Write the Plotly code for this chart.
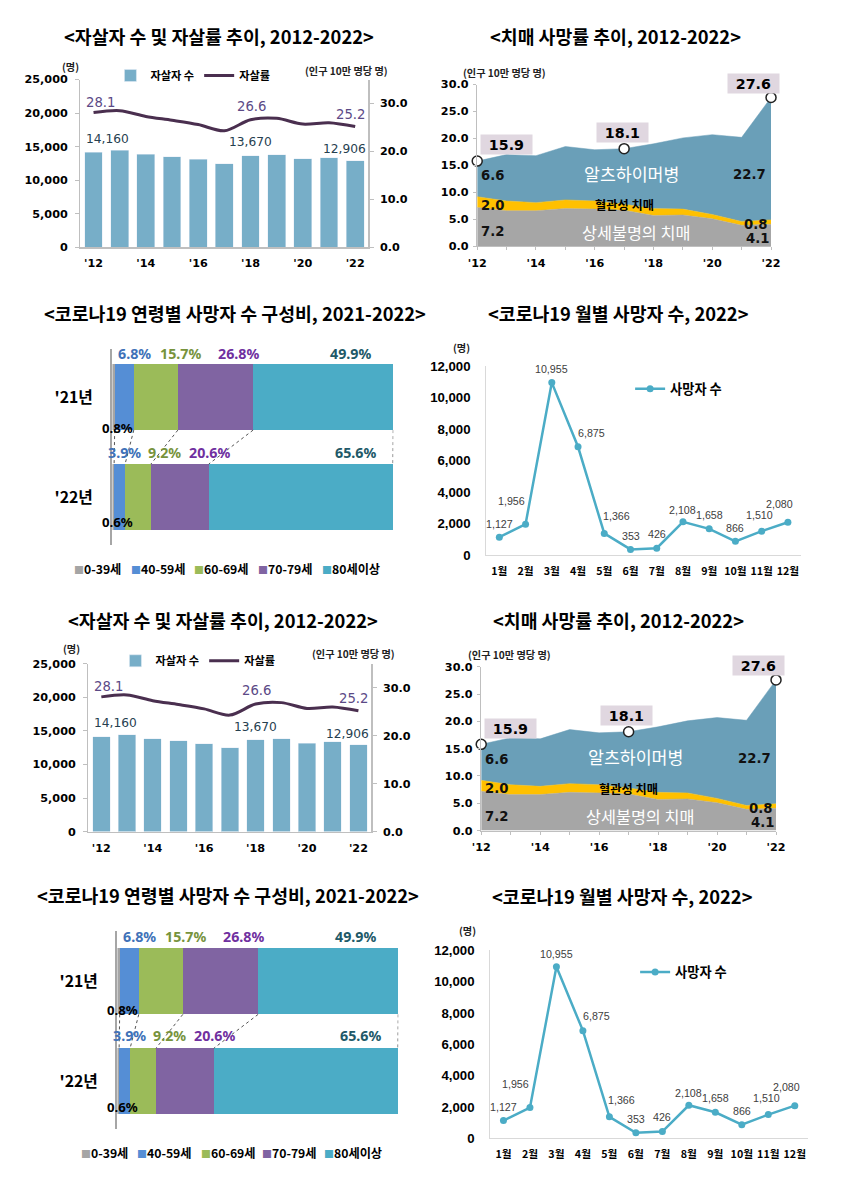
import plotly.graph_objects as go

# ---------------- data ----------------
years = [2012, 2013, 2014, 2015, 2016, 2017, 2018, 2019, 2020, 2021, 2022]
year_ticks = [2012, 2014, 2016, 2018, 2020, 2022]
year_tick_text = ["'12", "'14", "'16", "'18", "'20", "'22"]

suicide_counts = [14160, 14427, 13836, 13513, 13092, 12463, 13670, 13799, 13195, 13352, 12906]
suicide_rates = [28.1, 28.5, 27.3, 26.5, 25.6, 24.3, 26.6, 26.9, 25.7, 26.0, 25.2]
suicide_label_years = [2012, 2018, 2022]

dementia_unspecified = [7.2, 6.6, 6.6, 7.0, 6.9, 6.7, 5.7, 5.8, 5.1, 3.9, 4.1]
dementia_vascular = [2.0, 1.8, 1.5, 1.6, 1.5, 1.1, 1.3, 1.1, 0.8, 0.7, 0.8]
dementia_alzheimer = [6.6, 8.6, 8.7, 9.9, 9.5, 10.3, 12.0, 13.2, 14.8, 15.6, 22.7]
dementia_total_years = [2012, 2017, 2022]
dementia_total_text = ["15.9", "18.1", "27.6"]

age_groups = ["0-39세", "40-59세", "60-69세", "70-79세", "80세이상"]
covid_years = ["'21년", "'22년"]
share_2021 = [0.8, 6.8, 15.7, 26.8, 49.9]
share_2022 = [0.6, 3.9, 9.2, 20.6, 65.6]

months = ["1월", "2월", "3월", "4월", "5월", "6월", "7월", "8월", "9월", "10월", "11월", "12월"]
monthly_deaths = [1127, 1956, 10955, 6875, 1366, 353, 426, 2108, 1658, 866, 1510, 2080]

# ---------------- style ----------------
W, H = 841, 1190
# the photographed page is shrunk slightly; layout positions are given in picture pixels
SX, BX = 0.978, 10.5
SY, BY = 0.9886, 4.4
K = 1 / 0.983  # size compensation for fonts / pixel offsets

KR = "Noto Sans CJK KR"
NUM = "DejaVu Sans"
ARIAL = "Liberation Sans"
NOTO = "Noto Sans"
AXIS_GREY = "#bfbfbf"
C_SUI_BAR = "#77aec8"
C_SUI_LINE = "#4a2f4f"
C_UNSPEC = "#a6a6a6"
C_VASC = "#ffc000"
C_ALZ = "#6a9fb8"
C_AGE = ["#a5a5a5", "#558ed5", "#9bbb59", "#8064a2", "#4bacc6"]
C_AGE_LABEL = ["#000000", "#3f72b8", "#77933c", "#7030a0", "#215968"]
C_MONTH = "#4bacc6"

# label offsets (pixels)
sui_rate_shift = [(7, 10), (1, 13), (-5, 12)]
sui_count_shift = [(14, 13), (0, 13), (-11, 11)]
dem_box_shift = [(29, 16), (-2, 16), (-17, 14)]
month_label_dx = [0, -14, 0, 13, 12, 0, 0, 0, 0, 0, -2, -8]
month_label_dy = [13, 23, 13, 14, 17, 13, 14, 12, 14, 13, 16, 18]
age_lab_dx21 = [0, 10, 24, 23, 27]
age_lab_dx22 = [0, 5, 26, 29, 54]

TOP = dict(
    sui=dict(x0=82, x1=370, y0=77, y1=245, title=(221, 33), unit_l=(72, 64), unit_r=(348, 68), legend=(112, 73)),
    dem=dict(x0=479, x1=773, y0=82, y1=244, title=(617, 33), unit=(506, 70)),
    age=dict(x0=114, x1=395, y0=347, y1=543, rng=[-0.48, 1.48], title=(237, 311), legend_y=567,
             legend_x=[74, 131, 194, 258, 322], dy21=10, dy22=11, small=(2, 8)),
    mon=dict(x0=488, x1=803, y0=364, y1=553, title=(620, 311), unit=(463, 345), legend=(632, 387)),
)
BOTTOM = dict(
    sui=dict(x0=90, x1=373, y0=662, y1=830, title=(225, 618), unit_l=(73, 647), unit_r=(355, 652), legend=(117, 659)),
    dem=dict(x0=483, x1=778, y0=665, y1=829, title=(620, 618), unit=(511, 653)),
    age=dict(x0=119, x1=400, y0=930, y1=1128, rng=[-0.48, 1.5], title=(230, 893), legend_y=1152,
             legend_x=[81, 137, 201, 262, 324], dy21=12, dy22=13, small=(4, 7)),
    mon=dict(x0=492, x1=810, y0=949, y1=1137, title=(624, 894), unit=(469, 929), legend=(637, 971)),
)


def fx(v):
    return ((v - BX) / SX) / W


def fy(v):
    return 1 - ((v - BY) / SY) / H


def fs(v):
    return round(v * K, 2)


def akey(kind, n):
    return f"{kind}axis" if n == 1 else f"{kind}axis{n}"


def aref(kind, n):
    return kind if n == 1 else f"{kind}{n}"


fig = go.Figure()
layout = {}
annotations = []
shapes = []


def ann(**kw):
    if "xshift" in kw:
        kw["xshift"] = kw["xshift"] * K
    if "yshift" in kw:
        kw["yshift"] = kw["yshift"] * K
    annotations.append(kw)


def title(txt, pos, size=18):
    ann(xref="paper", yref="paper", x=fx(pos[0]), y=fy(pos[1]), text=txt, showarrow=False,
        xanchor="center", yanchor="middle", font=dict(family=KR, size=fs(size), color="black", weight="bold"))


def unit(txt, pos, size=10):
    ann(xref="paper", yref="paper", x=fx(pos[0]), y=fy(pos[1]), text=txt, showarrow=False,
        xanchor="center", yanchor="middle", font=dict(family=KR, size=fs(size), color="#222222", weight="bold"))


def suicide_panel(xn, yl, yr, g, legend_id):
    xr, ylr, yrr = aref("x", xn), aref("y", yl), aref("y", yr)
    fig.add_trace(go.Bar(x=years, y=suicide_counts, name="자살자 수", width=0.68,
                         marker=dict(color=C_SUI_BAR), xaxis=xr, yaxis=ylr, legend=legend_id))
    fig.add_trace(go.Scatter(x=years, y=suicide_rates, name="자살률", mode="lines",
                             line=dict(color=C_SUI_LINE, width=3, shape="spline", smoothing=0.9),
                             xaxis=xr, yaxis=yrr, legend=legend_id))
    tickfont = dict(family=NUM, size=fs(11), color="black", weight="bold")
    layout[akey("x", xn)] = dict(domain=[fx(g["x0"]), fx(g["x1"])], anchor=ylr, range=[2011.5, 2022.5],
                                 tickvals=year_ticks, ticktext=year_tick_text, showline=True,
                                 linecolor=AXIS_GREY, linewidth=1.5, showgrid=False, zeroline=False,
                                 ticks="", tickfont=tickfont, ticklabelstandoff=5)
    layout[akey("y", yl)] = dict(domain=[fy(g["y1"]), fy(g["y0"])], anchor=xr, range=[0, 25000],
                                 tickvals=[0, 5000, 10000, 15000, 20000, 25000], tickformat=",",
                                 showline=True, linecolor=AXIS_GREY, linewidth=1.5, showgrid=False,
                                 zeroline=False, ticks="outside", ticklen=4, tickcolor=AXIS_GREY,
                                 tickfont=tickfont, ticklabelstandoff=5)
    layout[akey("y", yr)] = dict(overlaying=ylr, side="right", anchor=xr, range=[0, 35],
                                 tickvals=[0, 10, 20, 30], tickformat=".1f", showline=True,
                                 linecolor=AXIS_GREY, linewidth=1.5, showgrid=False, zeroline=False,
                                 ticks="outside", ticklen=4, tickcolor=AXIS_GREY,
                                 tickfont=tickfont, ticklabelstandoff=4)
    for k, yv in enumerate(suicide_label_years):
        i = years.index(yv)
        ann(xref=xr, yref=yrr, x=yv, y=suicide_rates[i], text=f"{suicide_rates[i]:.1f}", showarrow=False,
            xshift=sui_rate_shift[k][0], yshift=sui_rate_shift[k][1],
            font=dict(family=NUM, size=fs(13), color="#5b4a86"))
        ann(xref=xr, yref=ylr, x=yv, y=suicide_counts[i], text=f"{suicide_counts[i]:,}", showarrow=False,
            xshift=sui_count_shift[k][0], yshift=sui_count_shift[k][1],
            font=dict(family=NUM, size=fs(12), color="#26404f"))
    title("<자살자 수 및 자살률 추이, 2012-2022>", g["title"])
    unit("(명)", g["unit_l"])
    unit("(인구 10만 명당 명)", g["unit_r"])
    layout[legend_id] = dict(x=fx(g["legend"][0]), y=fy(g["legend"][1]), xanchor="left", yanchor="middle",
                             orientation="h", bgcolor="rgba(0,0,0,0)", itemwidth=30, traceorder="normal",
                             font=dict(family=KR, size=fs(11), color="black", weight="bold"))


def dementia_panel(xn, yn, g):
    xr, yr = aref("x", xn), aref("y", yn)
    grp = f"dem{xn}"
    for vals, col in [(dementia_unspecified, C_UNSPEC), (dementia_vascular, C_VASC), (dementia_alzheimer, C_ALZ)]:
        fig.add_trace(go.Scatter(x=years, y=vals, stackgroup=grp, mode="lines",
                                 line=dict(width=0.5, color=col), fillcolor=col, showlegend=False,
                                 xaxis=xr, yaxis=yr))
    totals = [u + v + a for u, v, a in zip(dementia_unspecified, dementia_vascular, dementia_alzheimer)]
    idx = [years.index(y) for y in dementia_total_years]
    fig.add_trace(go.Scatter(x=dementia_total_years, y=[totals[i] for i in idx], mode="markers",
                             marker=dict(size=10, color="white", line=dict(color="#222222", width=1.5)),
                             cliponaxis=False, showlegend=False, xaxis=xr, yaxis=yr))
    for k, i in enumerate(idx):
        ann(xref=xr, yref=yr, x=years[i], y=totals[i], text=dementia_total_text[k], showarrow=False,
            xshift=dem_box_shift[k][0], yshift=dem_box_shift[k][1],
            bgcolor="#e0d7e0", width=fs(50), height=fs(19), borderpad=0,
            font=dict(family=NUM, size=fs(14), color="black", weight="bold"))
    vfont = dict(family=NUM, size=fs(13), color="#111111", weight="bold")
    last = len(years) - 1
    shifts = {(0, "alz"): (15, 3), (0, "vasc"): (15, -3), (0, "unspec"): (15, -5),
              (last, "alz"): (-21, -16), (last, "vasc"): (-15, -2), (last, "unspec"): (-13, -3)}
    for i in (0, last):
        u, v, a = dementia_unspecified[i], dementia_vascular[i], dementia_alzheimer[i]
        for yv, val, layer in [(u + v + a / 2, a, "alz"), (u + v / 2, v, "vasc"), (u / 2, u, "unspec")]:
            sx, sy = shifts[(i, layer)]
            ann(xref=xr, yref=yr, x=years[i], y=yv, text=f"{val:.1f}", showarrow=False,
                xshift=sx, yshift=sy, font=vfont)
    ann(xref=xr, yref=yr, x=2017.25, y=13.5, text="알츠하이머병", showarrow=False,
        font=dict(family=KR, size=fs(17), color="white"))
    ann(xref=xr, yref=yr, x=2017.0, y=7.6, text="혈관성 치매", showarrow=False,
        font=dict(family=KR, size=fs(12), color="black", weight="bold"))
    ann(xref=xr, yref=yr, x=2017.4, y=2.6, text="상세불명의 치매", showarrow=False,
        font=dict(family=KR, size=fs(16), color="white"))
    tickfont = dict(family=NUM, size=fs(11), color="black", weight="bold")
    layout[akey("x", xn)] = dict(domain=[fx(g["x0"]), fx(g["x1"])], anchor=yr, range=[2012, 2022],
                                 tickvals=years,
                                 ticktext=[year_tick_text[year_ticks.index(y)] if y in year_ticks else "" for y in years],
                                 showline=True, linecolor=AXIS_GREY, linewidth=1, showgrid=False, zeroline=False,
                                 ticks="outside", ticklen=3, tickcolor=AXIS_GREY, tickfont=tickfont,
                                 ticklabelstandoff=3)
    layout[akey("y", yn)] = dict(domain=[fy(g["y1"]), fy(g["y0"])], anchor=xr, range=[0, 30],
                                 tickvals=[0, 5, 10, 15, 20, 25, 30], tickformat=".1f", showline=True,
                                 linecolor=AXIS_GREY, linewidth=1.5, showgrid=False, zeroline=False,
                                 ticks="outside", ticklen=3, tickcolor=AXIS_GREY, tickfont=tickfont,
                                 ticklabelstandoff=2)
    title("<치매 사망률 추이, 2012-2022>", g["title"])
    unit("(인구 10만 명당 명)", g["unit"])


def age_panel(xn, yn, g):
    xr, yr = aref("x", xn), aref("y", yn)
    bw = 0.66
    for i, grp in enumerate(age_groups):
        fig.add_trace(go.Bar(y=covid_years, x=[share_2021[i], share_2022[i]], orientation="h", name=grp,
                             width=bw, marker=dict(color=C_AGE[i], line=dict(width=0)), showlegend=False,
                             xaxis=xr, yaxis=yr))
    cum21, cum22 = [], []
    s1 = s2 = 0.0
    for a, b in zip(share_2021, share_2022):
        s1 += a
        s2 += b
        cum21.append(s1)
        cum22.append(s2)
    y21, y22 = 1, 0
    for k in range(len(age_groups)):
        shapes.append(dict(type="line", xref=xr, yref=yr, x0=cum21[k], y0=y21 - bw / 2,
                           x1=cum22[k], y1=y22 + bw / 2, line=dict(color="#555555", width=1, dash="dot")))
    lab = dict(family=NOTO, size=fs(14), weight="bold")
    for i in range(1, len(age_groups)):
        c21 = cum21[i] - share_2021[i] / 2
        c22 = cum22[i] - share_2022[i] / 2
        ann(xref=xr, yref=yr, x=c21, y=y21 + bw / 2, text=f"{share_2021[i]:.1f}%", showarrow=False,
            xshift=age_lab_dx21[i], yshift=g["dy21"], font=dict(lab, color=C_AGE_LABEL[i]))
        ann(xref=xr, yref=yr, x=c22, y=y22 + bw / 2, text=f"{share_2022[i]:.1f}%", showarrow=False,
            xshift=age_lab_dx22[i], yshift=g["dy22"], font=dict(lab, color=C_AGE_LABEL[i]))
    small = dict(family=NOTO, size=fs(13), color="black", weight="bold")
    ann(xref=xr, yref=yr, x=0, y=y21 - bw / 2, text=f"{share_2021[0]:.1f}%", showarrow=False,
        xshift=5, yshift=g["small"][0], font=small)
    ann(xref=xr, yref=yr, x=0, y=y22 - bw / 2, text=f"{share_2022[0]:.1f}%", showarrow=False,
        xshift=5, yshift=g["small"][1], font=small)
    layout[akey("x", xn)] = dict(domain=[fx(g["x0"]), fx(g["x1"])], anchor=yr, range=[0, 100],
                                 visible=False)
    layout[akey("y", yn)] = dict(domain=[fy(g["y1"]), fy(g["y0"])], anchor=xr, range=g["rng"],
                                 type="category", categoryarray=covid_years[::-1], showline=True,
                                 linecolor="#a6a6a6", linewidth=2.5, showgrid=False, zeroline=False,
                                 ticks="", ticklabelstandoff=14,
                                 tickfont=dict(family=KR, size=fs(15.5), color="black", weight="bold"))
    for i, grp in enumerate(age_groups):
        ann(xref="paper", yref="paper", x=fx(g["legend_x"][i]), y=fy(g["legend_y"]),
            xanchor="left", yanchor="middle", showarrow=False,
            text=f'<span style="color:{C_AGE[i]};font-size:10px">■</span>{grp}',
            font=dict(family=KR, size=fs(12), color="black", weight="bold"))
    title("<코로나19 연령별 사망자 수 구성비, 2021-2022>", g["title"])


def month_panel(xn, yn, g, legend_id):
    xr, yr = aref("x", xn), aref("y", yn)
    fig.add_trace(go.Scatter(x=months, y=monthly_deaths, mode="lines+markers", name="사망자 수",
                             line=dict(color=C_MONTH, width=2.5), marker=dict(size=7, color=C_MONTH),
                             xaxis=xr, yaxis=yr, legend=legend_id, cliponaxis=False))
    for i, m in enumerate(months):
        ann(xref=xr, yref=yr, x=m, y=monthly_deaths[i], text=f"{monthly_deaths[i]:,}", showarrow=False,
            xshift=month_label_dx[i], yshift=month_label_dy[i],
            font=dict(family=ARIAL, size=fs(10.5), color="#404040"))
    layout[akey("x", xn)] = dict(domain=[fx(g["x0"]), fx(g["x1"])], anchor=yr, type="category",
                                 range=[-0.5, 11.5], showline=True, linecolor="#d9d9d9", linewidth=1,
                                 showgrid=False, zeroline=False, ticks="", ticklabelstandoff=6,
                                 tickfont=dict(family=KR, size=fs(10.5), color="black", weight="bold"))
    layout[akey("y", yn)] = dict(domain=[fy(g["y1"]), fy(g["y0"])], anchor=xr, range=[0, 12000],
                                 tickvals=[0, 2000, 4000, 6000, 8000, 10000, 12000], tickformat=",",
                                 showline=True, linecolor="#d9d9d9", linewidth=1, showgrid=False,
                                 zeroline=False, ticks="", ticklabelstandoff=12,
                                 tickfont=dict(family=ARIAL, size=fs(13), color="black", weight="bold"))
    title("<코로나19 월별 사망자 수, 2022>", g["title"])
    unit("(명)", g["unit"])
    layout[legend_id] = dict(x=fx(g["legend"][0]), y=fy(g["legend"][1]), xanchor="left", yanchor="middle",
                             orientation="h", bgcolor="rgba(0,0,0,0)", itemwidth=30,
                             font=dict(family=KR, size=fs(13), color="black", weight="bold"))


suicide_panel(1, 1, 2, TOP["sui"], "legend")
dementia_panel(2, 3, TOP["dem"])
age_panel(3, 4, TOP["age"])
month_panel(4, 5, TOP["mon"], "legend2")
suicide_panel(5, 6, 7, BOTTOM["sui"], "legend3")
dementia_panel(6, 8, BOTTOM["dem"])
age_panel(7, 9, BOTTOM["age"])
month_panel(8, 10, BOTTOM["mon"], "legend4")

fig.update_layout(width=W, height=H, margin=dict(l=0, r=0, t=0, b=0), paper_bgcolor="white",
                  plot_bgcolor="white", barmode="stack", showlegend=True, hovermode=False,
                  annotations=annotations, shapes=shapes, **layout)
fig.write_html(
    "out.html",
    config={"displayModeBar": False, "staticPlot": True},
    post_script=(
        "document.documentElement.style.margin='0';document.body.style.margin='0';"
        "document.body.style.padding='0';document.body.style.overflow='hidden';"
        "var d=document.getElementById('{plot_id}');d.style.position='fixed';"
        "d.style.left='0px';d.style.top='0px';"
    ),
)
